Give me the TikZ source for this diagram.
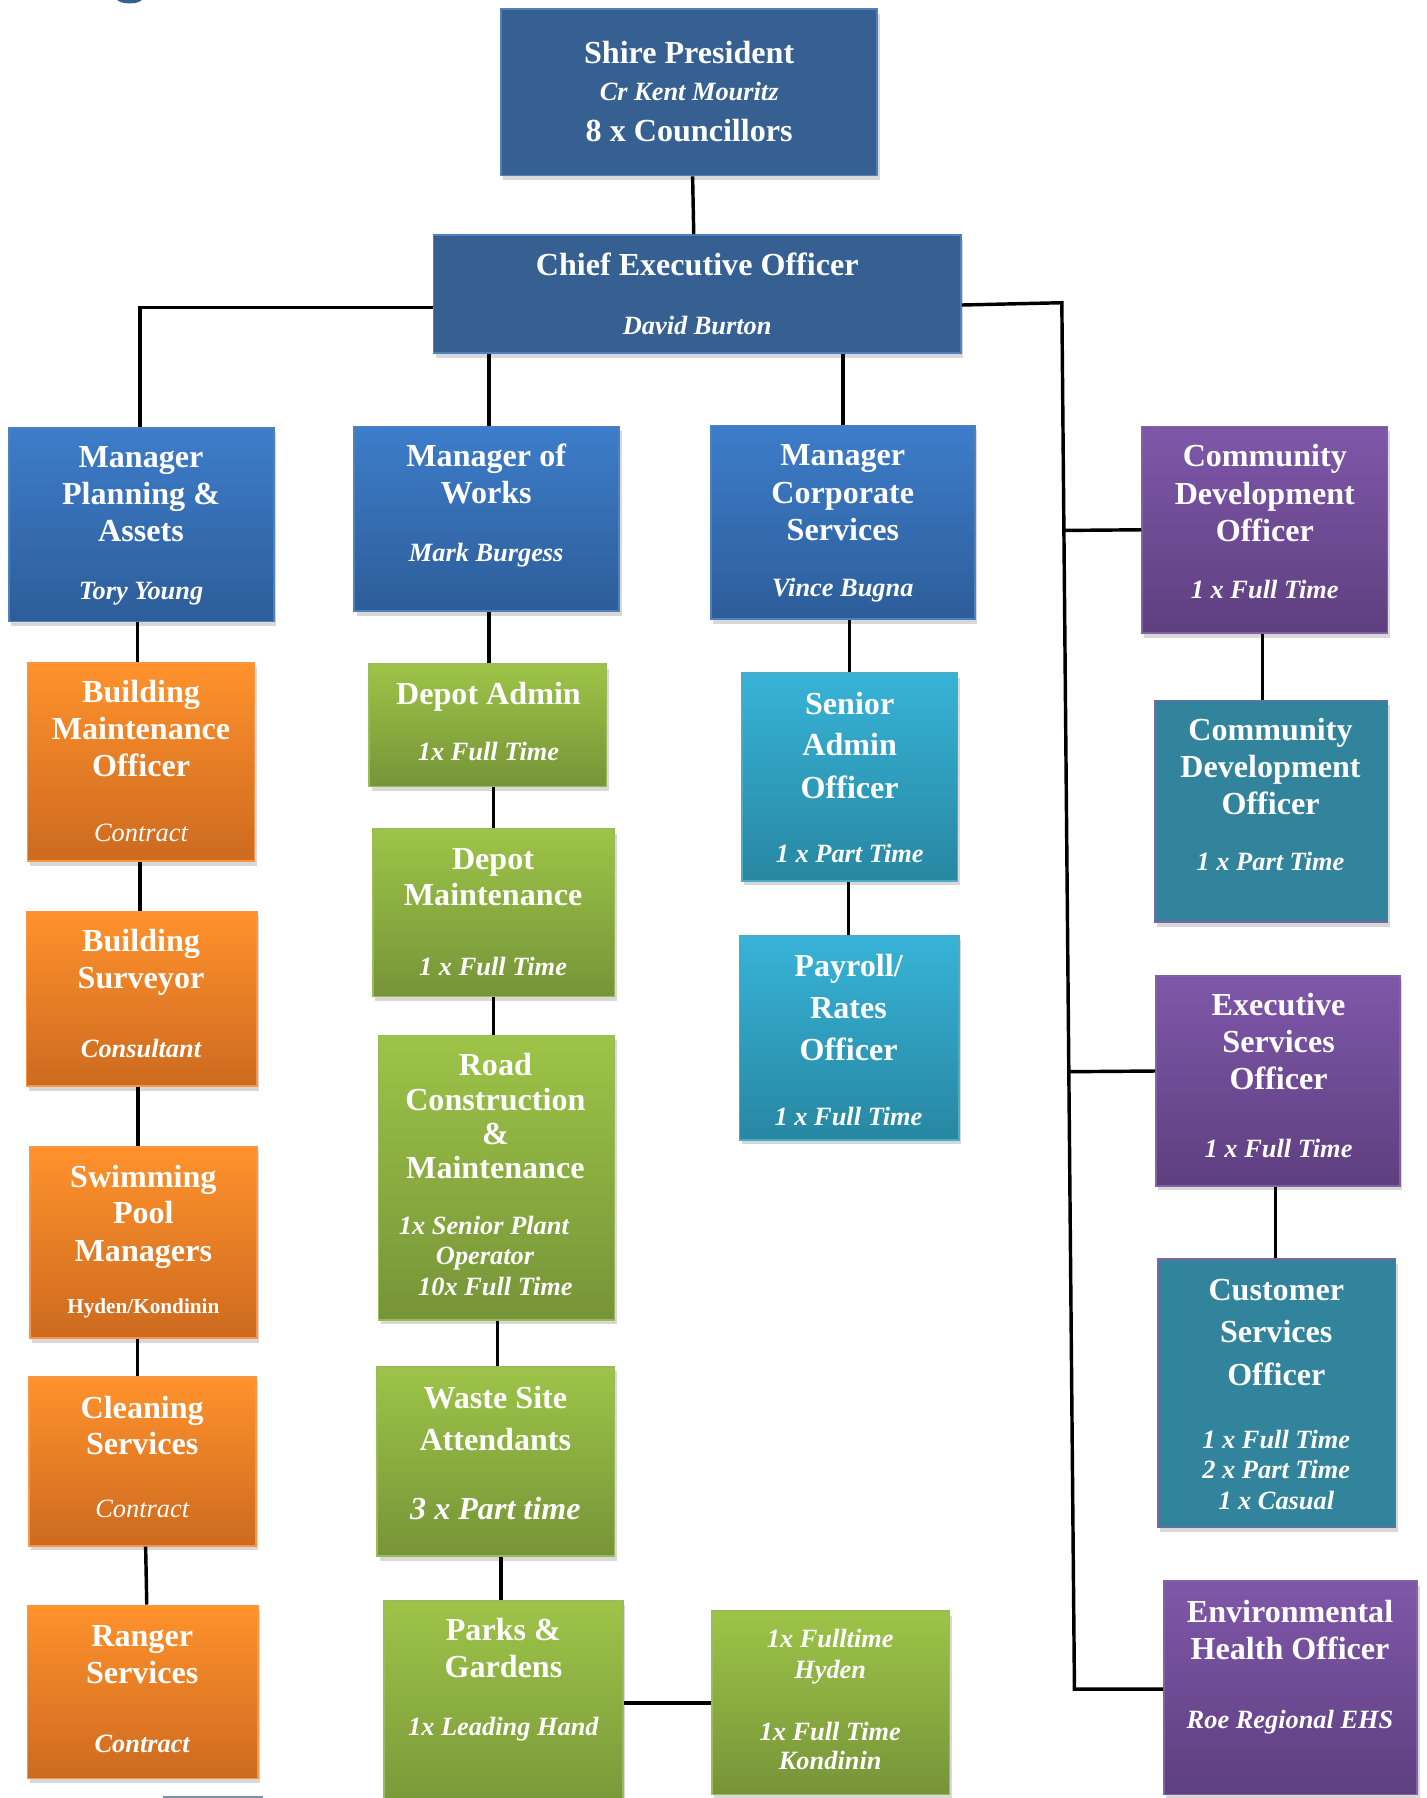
\documentclass[tikz,border=0pt]{standalone}
\usepackage{fontspec}
\setmainfont{Liberation Serif}
\usetikzlibrary{shadows,calc}

\definecolor{topblue}{HTML}{366092}
\definecolor{topbord}{HTML}{4F81BD}
\definecolor{mgrtop}{HTML}{3D7DCA}
\definecolor{mgrbot}{HTML}{2D5D99}
\definecolor{orgtop}{HTML}{FF922C}
\definecolor{orgbot}{HTML}{CD6A1F}
\definecolor{orgbord}{HTML}{F79646}
\definecolor{grntop}{HTML}{9DC448}
\definecolor{grnbot}{HTML}{769438}
\definecolor{grnbord}{HTML}{9BBB59}
\definecolor{cyntop}{HTML}{37B3D7}
\definecolor{cynbot}{HTML}{2787A2}
\definecolor{cynbord}{HTML}{4BACC6}
\definecolor{tealf}{HTML}{31849B}
\definecolor{purtop}{HTML}{7F57A9}
\definecolor{purbot}{HTML}{5E3F7F}
\definecolor{purbord}{HTML}{8064A2}
\definecolor{sliver}{HTML}{7D8FA6}

\tikzset{
  box/.style={rectangle, inner sep=0pt, line width=1.5pt,
    drop shadow={shadow xshift=2pt, shadow yshift=-4pt, opacity=0.3}},
  topbox/.style={box, fill=topblue, draw=topbord},
  mgrbox/.style={box, top color=mgrtop, bottom color=mgrbot, draw=topbord},
  ornbox/.style={box, top color=orgtop, bottom color=orgbot, draw=orgbord},
  grnbox/.style={box, top color=grntop, bottom color=grnbot, draw=grnbord},
  cynbox/.style={box, top color=cyntop, bottom color=cynbot, draw=cynbord},
  tealbox/.style={box, fill=tealf, draw=purbord},
  purbox/.style={box, top color=purtop, bottom color=purbot, draw=purbord},
  conn/.style={line width=3pt, black},
  tB/.style={text=white, inner sep=0pt, anchor=base, font=\fontsize{28pt}{32pt}\selectfont\bfseries},
  tI/.style={text=white, inner sep=0pt, anchor=base, font=\fontsize{23pt}{26pt}\selectfont\bfseries\itshape},
  tR/.style={text=white, inner sep=0pt, anchor=base, font=\fontsize{23pt}{26pt}\selectfont\itshape},
  tS/.style={text=white, inner sep=0pt, anchor=base, font=\fontsize{18.5pt}{22pt}\selectfont\bfseries},
  tL/.style={text=white, inner sep=0pt, anchor=base, font=\fontsize{28pt}{32pt}\selectfont\bfseries\itshape},
}

\newcommand\orgbox[6]{\node[#2, minimum width={(#5-#3)*1pt}, minimum height={(#6-#4)*1pt}] (#1) at ({(#3+#5)/2},{(#4+#6)/2}) {};}
\newcommand\txB[3]{\node[tB] at (#1,{#2+9}) {#3};}
\newcommand\txI[3]{\node[tI] at (#1,{#2+7.5}) {#3};}
\newcommand\txR[3]{\node[tR] at (#1,{#2+7.5}) {#3};}
\newcommand\txS[3]{\node[tS] at (#1,{#2+6.5}) {#3};}
\newcommand\txL[3]{\node[tL] at (#1,{#2+9}) {#3};}

\begin{document}
\begin{tikzpicture}[x=1pt,y=-1pt]
\useasboundingbox (0,0) rectangle (1244,1568);
\clip (0,0) rectangle (1244,1568);
\fill[white] (0,0) rectangle (1244,1568);

% fragments cut by the page edges
\fill[topblue] (113,-1) ellipse (11pt and 4pt);
\fill[sliver] (142,1566) rectangle (229,1570);

% boxes
\orgbox{shire}{topbox}{437}{8}{765}{153}
\orgbox{ceo}{topbox}{378}{205}{838}{308}
\orgbox{plan}{mgrbox}{8}{373}{239}{542}
\orgbox{works}{mgrbox}{309}{372}{540}{533}
\orgbox{corp}{mgrbox}{620}{371}{850}{540}
\orgbox{cdoa}{purbox}{996}{372}{1210}{552}
\orgbox{cdob}{tealbox}{1007}{611}{1210}{804}
\orgbox{eso}{purbox}{1008}{851}{1221}{1034}
\orgbox{cso}{tealbox}{1010}{1098}{1217}{1332}
\orgbox{eho}{purbox}{1015}{1379}{1236}{1565}
\orgbox{bmo}{ornbox}{24}{578}{222}{751}
\orgbox{bsv}{ornbox}{23}{795}{224}{947}
\orgbox{spm}{ornbox}{26}{1000}{224}{1167}
\orgbox{cln}{ornbox}{25}{1201}{223}{1348}
\orgbox{rng}{ornbox}{24}{1400}{225}{1551}
\orgbox{dpa}{grnbox}{322}{579}{529}{686}
\orgbox{dpm}{grnbox}{325}{723}{536}{869}
\orgbox{road}{grnbox}{330}{903}{536}{1151}
\orgbox{waste}{grnbox}{329}{1192}{536}{1357}
\orgbox{parks}{grnbox}{335}{1396}{543}{1590}
\orgbox{hk}{grnbox}{621}{1405}{828}{1565}
\orgbox{sao}{cynbox}{647}{587}{835}{768}
\orgbox{pay}{cynbox}{645}{816}{836}{994}

% texts
\txB{601}{46}{Shire President}
\txI{601}{80}{Cr Kent Mouritz}
\txB{601}{114}{8 x Councillors}

\txB{608}{231}{Chief Executive Officer}
\txI{608}{284}{David Burton}

\txB{123}{399}{Manager}
\txB{123}{431}{Planning \&}
\txB{123}{463}{Assets}
\txI{123}{515}{Tory Young}

\txB{424}{398}{Manager of}
\txB{424}{430}{Works}
\txI{424}{482}{Mark Burgess}

\txB{735}{397}{Manager}
\txB{735}{430}{Corporate}
\txB{735}{462}{Services}
\txI{735}{513}{Vince Bugna}

\txB{1103}{398}{Community}
\txB{1103}{431}{Development}
\txB{1103}{463}{Officer}
\txI{1103}{514}{1 x Full Time}

\txB{1108}{637}{Community}
\txB{1108}{669}{Development}
\txB{1108}{701}{Officer}
\txI{1108}{752}{1 x Part Time}

\txB{1115}{877}{Executive}
\txB{1115}{909}{Services}
\txB{1115}{941}{Officer}
\txI{1115}{1002}{1 x Full Time}

\txB{1113}{1125}{Customer}
\txB{1113}{1162}{Services}
\txB{1113}{1199}{Officer}
\txI{1113}{1256}{1 x Full Time}
\txI{1113}{1282}{2 x Part Time}
\txI{1113}{1309}{1 x Casual}

\txB{1125}{1406}{Environmental}
\txB{1125}{1438}{Health Officer}
\txI{1125}{1500}{Roe Regional EHS}

\txB{123}{604}{Building}
\txB{123}{636}{Maintenance}
\txB{123}{668}{Officer}
\txR{123}{726}{Contract}

\txB{123}{821}{Building}
\txB{123}{853}{Surveyor}
\txI{123}{915}{Consultant}

\txB{125}{1027}{Swimming}
\txB{125}{1058}{Pool}
\txB{125}{1091}{Managers}
\txS{125}{1139}{Hyden/Kondinin}

\txB{124}{1228}{Cleaning}
\txB{124}{1259}{Services}
\txR{124}{1316}{Contract}

\txB{124}{1427}{Ranger}
\txB{124}{1459}{Services}
\txI{124}{1521}{Contract}

\txB{426}{605}{Depot Admin}
\txI{426}{656}{1x Full Time}

\txB{430}{749}{Depot}
\txB{430}{781}{Maintenance}
\txI{430}{843}{1 x Full Time}

\txB{432}{929}{Road}
\txB{432}{959}{Construction}
\txB{432}{989}{\&}
\txB{432}{1019}{Maintenance}
\txI{422}{1069}{1x Senior Plant}
\txI{423}{1095}{Operator}
\txI{432}{1122}{10x Full Time}

\txB{432}{1219}{Waste Site}
\txB{432}{1256}{Attendants}
\txL{432}{1316}{3 x Part time}

\txB{439}{1422}{Parks \&}
\txB{439}{1454}{Gardens}
\txI{439}{1506}{1x Leading Hand}

\txI{724}{1429}{1x Fulltime}
\txI{724}{1456}{Hyden}
\txI{724}{1510}{1x Full Time}
\txI{724}{1536}{Kondinin}

\txB{741}{614}{Senior}
\txB{741}{650}{Admin}
\txB{741}{687}{Officer}
\txI{741}{745}{1 x Part Time}

\txB{740}{843}{Payroll/}
\txB{740}{879}{Rates}
\txB{740}{916}{Officer}
\txI{740}{974}{1 x Full Time}

% connectors
\coordinate (tra) at (926,264);
\coordinate (trb) at (937,1473);
\draw[conn] ([xshift=3pt]shire.south) -- ([xshift=-3pt]ceo.north);
\draw[conn] ([yshift=-11.5pt]ceo.west) -| ([xshift=-1.5pt]plan.north);
\draw[conn] ([xshift=2pt]works.north |- ceo.south) -- ([xshift=2pt]works.north);
\draw[conn] (corp.north |- ceo.south) -- (corp.north);
\draw[conn] ([yshift=-9.5pt]ceo.east) -- (tra) -- (trb) -- (trb -| eho.west);
\draw[conn] ($(tra)!(cdoa.west)!(trb)$) -- (cdoa.west);
\draw[conn] ($(tra)!([yshift=8.5pt]eso.west)!(trb)$) -- ([yshift=8.5pt]eso.west);
\draw[conn] ([xshift=-2pt]cdoa.south) -- ([xshift=-2pt]cdoa.south |- cdob.north);
\draw[conn] ([xshift=-2pt]eso.south) -- ([xshift=-2pt]eso.south |- cso.north);

\draw[conn] ([xshift=-3pt]bmo.north |- plan.south) -- ([xshift=-3pt]bmo.north);
\draw[conn] ([xshift=-1pt]bmo.south) -- ([xshift=-1pt]bmo.south |- bsv.north);
\draw[conn] ([xshift=-3pt]bsv.south) -- ([xshift=-3pt]bsv.south |- spm.north);
\draw[conn] ([xshift=-4pt]cln.north |- spm.south) -- ([xshift=-4pt]cln.north);
\draw[conn] ([xshift=3pt]cln.south) -- ([xshift=3.5pt]rng.north);

\draw[conn] ([xshift=1pt]dpa.north |- works.south) -- ([xshift=1pt]dpa.north);
\draw[conn] (dpm.north |- dpa.south) -- (dpm.north);
\draw[conn] (dpm.south) -- (dpm.south |- road.north);
\draw[conn] ([xshift=1pt]road.south) -- ([xshift=1pt]road.south |- waste.north);
\draw[conn] ([xshift=4.5pt]waste.south) -- ([xshift=4.5pt]waste.south |- parks.north);
\draw[conn] (hk.west -| parks.east) -- (hk.west);

\draw[conn] (sao.north |- corp.south) -- (sao.north);
\draw[conn] ([xshift=-1pt]sao.south) -- ([xshift=-1pt]sao.south |- pay.north);
\end{tikzpicture}
\end{document}
